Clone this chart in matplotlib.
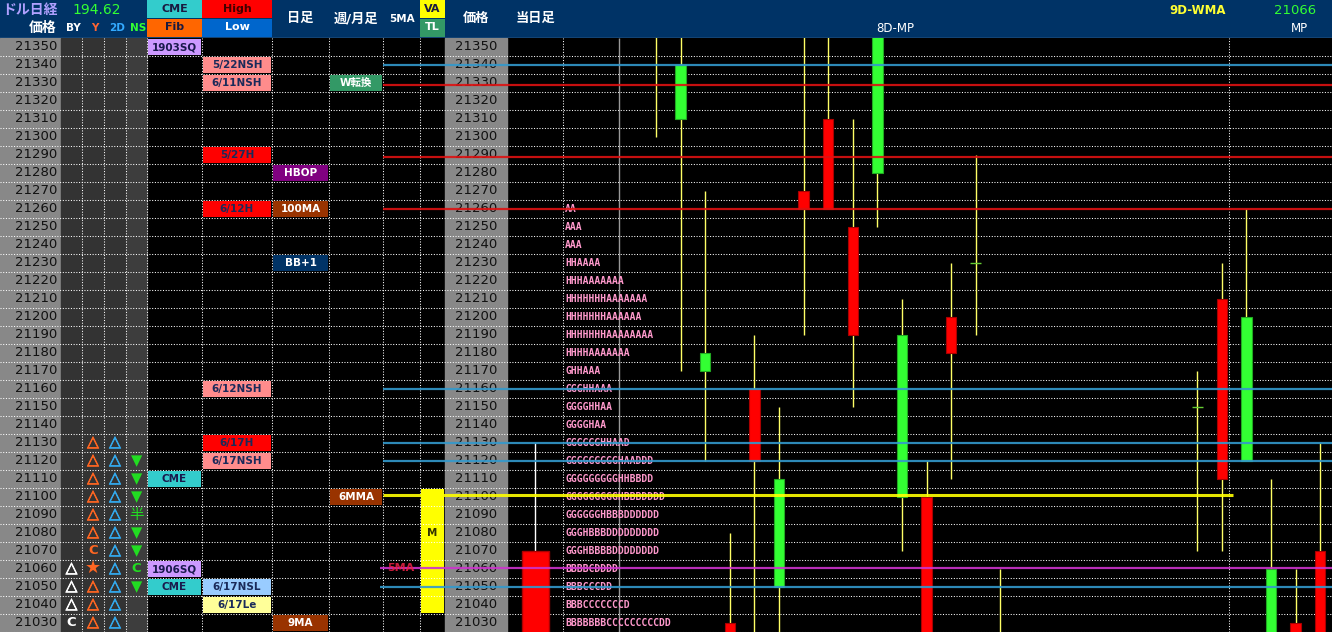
import matplotlib
matplotlib.use("Agg")
import matplotlib.pyplot as plt
import matplotlib.patheffects as pe
from matplotlib.patches import Rectangle

plt.rcParams['font.family'] = ['DejaVu Sans', 'Noto Sans CJK JP']

# ---- data ----
row_prices = list(range(21350, 21020, -10))

cme_rows = [21350, 21110, 21060, 21050]
cme_text = ['1903SQ', 'CME', '1906SQ', 'CME']
cme_fill = ['#cc99ff', '#33cccc', '#cc99ff', '#33cccc']

hl_rows = [21340, 21330, 21290, 21260, 21160, 21130, 21120, 21050, 21040]
hl_text = ['5/22NSH', '6/11NSH', '5/27H', '6/12H', '6/12NSH', '6/17H', '6/17NSH', '6/17NSL', '6/17Le']
hl_fill = ['#ff8c8c', '#ff8c8c', '#ff0000', '#ff0000', '#ff8c8c', '#ff0000', '#ff8c8c', '#99ccff', '#ffff99']

day_rows = [21280, 21260, 21230, 21030]
day_text = ['HBOP', '100MA', 'BB+1', '9MA']
day_fill = ['#800080', '#993300', '#003366', '#993300']

wk_rows = [21330, 21100]
wk_text = ['W転換', '6MMA']
wk_fill = ['#339966', '#993300']

va_top, va_bottom = 21100, 21040
va_mark_row, va_mark = 21080, 'M'

by_sym = {21060: '△', 21050: '△', 21040: '△', 21030: 'C'}
y_sym = {21130: '△', 21120: '△', 21110: '△', 21100: '△', 21090: '△', 21080: '△',
         21070: 'C', 21060: '★', 21050: '△', 21040: '△', 21030: '△'}
d2_sym = {p: '△' for p in range(21130, 21020, -10)}
ns_sym = {21120: '▼', 21110: '▼', 21100: '▼', 21090: '半', 21080: '▼', 21070: '▼',
          21060: 'C', 21050: '▼'}

mp_rows = list(range(21260, 21020, -10))
mp_text = ['AA', 'AAA', 'AAA', 'HHAAAA', 'HHHAAAAAAA', 'HHHHHHHAAAAAAA', 'HHHHHHHAAAAAA',
           'HHHHHHHAAAAAAAA', 'HHHHAAAAAAA', 'GHHAAA', 'GGGHHAAA', 'GGGGHHAA', 'GGGGHAA',
           'GGGGGGHHAAD', 'GGGGGGGGGHAADDD', 'GGGGGGGGGHHBBDD', 'GGGGGGGGGHBBBDDDD',
           'GGGGGGHBBBDDDDDD', 'GGGHBBBDDDDDDDDD', 'GGGHBBBBDDDDDDDD', 'BBBBCDDDD',
           'BBBCCCDD', 'BBBCCCCCCCD', 'BBBBBBBCCCCCCCCCDD']

# daily candles (index, open, high, low, close)
c_idx = [0, 1, 2, 3, 4, 5, 6, 7, 8, 9, 10, 11, 12, 13, 14, 22, 23, 24, 25, 26, 27]
c_open = [21370, 21310, 21170, 21030, 21160, 21050, 21270, 21310, 21250, 21280, 21100,
          21100, 21200, 21230, 21010, 21150, 21210, 21120, 20990, 21030, 21070]
c_high = [21400, 21380, 21270, 21080, 21190, 21150, 21380, 21380, 21310, 21420, 21210,
          21120, 21230, 21290, 21060, 21170, 21230, 21260, 21110, 21060, 21130]
c_low = [21300, 21170, 21120, 20970, 21000, 21000, 21190, 21260, 21150, 21250, 21070,
         20960, 21110, 21190, 20960, 21070, 21070, 21120, 20980, 20990, 20990]
c_close = [21390, 21340, 21180, 20990, 21120, 21110, 21260, 21260, 21190, 21400, 21190,
           20980, 21180, 21230, 20980, 21150, 21110, 21200, 21060, 21000, 21000]

# today's candle
t_open, t_high, t_low, t_close = 21070, 21130, 20980, 21000

levels = [21340, 21329, 21289, 21260, 21160, 21130, 21120, 21101, 21060.5, 21050]
level_col = ['#3399cc', '#dd1111', '#dd1111', '#dd1111', '#3399cc', '#3399cc', '#3399cc',
             '#ffff00', '#cc33cc', '#3399cc']

# ---- layout (pixels) ----
W, H, HEAD = 1332, 632, 38
PLO, PHI = 21025, 21355
COL = {'price': (0, 61), 'by': (61, 82), 'y': (82, 104), 'd2': (104, 126), 'ns': (126, 147),
       'cme': (147, 202), 'hl': (202, 272), 'day': (272, 329), 'wk': (329, 383),
       'ma5': (383, 420), 'va': (420, 445), 'pr2': (445, 507), 'today': (507, 563)}

fig = plt.figure(figsize=(W / 100, H / 100), dpi=100, facecolor='black')

# header
axh = fig.add_axes([0, (H - HEAD) / H, 1, HEAD / H])
axh.set_xlim(0, W)
axh.set_ylim(HEAD, 0)
axh.set_facecolor('#003366')
axh.set_xticks([])
axh.set_yticks([])
for s in axh.spines.values():
    s.set_visible(False)


def hcell(c, top, fc, txt, tc):
    x0, x1 = COL[c]
    y0 = 0 if top else 18.5
    axh.add_patch(Rectangle((x0, y0), x1 - x0, 18, fc=fc, ec='none'))
    axh.text((x0 + x1) / 2, y0 + 9, txt, color=tc, fontsize=8, fontweight='bold',
             ha='center', va='center')


hcell('cme', True, '#33cccc', 'CME', '#1a1a40')
hcell('cme', False, '#ff6600', 'Fib', '#1a1a40')
hcell('hl', True, '#ff0000', 'High', '#440000')
hcell('hl', False, '#0066cc', 'Low', 'white')
hcell('va', True, '#ffff00', 'VA', '#1a1a40')
hcell('va', False, '#339966', 'TL', 'white')
axh.axhline(37.5, color='#6688aa', lw=1)

axh.text(30, 10, 'ドル日経', color='#b0a0ff', fontsize=10, fontweight='bold', ha='center', va='center')
axh.text(57, 28, '価格', color='white', fontsize=10, fontweight='bold', ha='right', va='center')
axh.text(97, 10, '194.62', color='#33ff33', fontsize=10, ha='center', va='center')
for c, t, tc in [('by', 'BY', 'white'), ('y', 'Y', '#ff6633'), ('d2', '2D', '#33aaff'), ('ns', 'NS', '#33ff33')]:
    axh.text(sum(COL[c]) / 2 + 2, 28, t, color=tc, fontsize=7.5, fontweight='bold', ha='center', va='center')
for c, t in [('day', '日足'), ('wk', '週/月足'), ('pr2', '価格'), ('today', '当日足')]:
    axh.text(sum(COL[c]) / 2, 18.5, t, color='white', fontsize=9.5, fontweight='bold', ha='center', va='center')
axh.text(sum(COL['ma5']) / 2, 18.5, '5MA', color='white', fontsize=7.5, fontweight='bold', ha='center', va='center')
axh.text(1198, 11, '9D-WMA', color='#ffff33', fontsize=8.5, fontweight='bold', ha='center', va='center')
axh.text(1295, 11, '21066', color='#33ff33', fontsize=9.5, ha='center', va='center')
axh.text(895, 28, '8D-MP', color='white', fontsize=8.5, ha='center', va='center')
axh.text(1299, 28, 'MP', color='white', fontsize=8.5, ha='center', va='center')

# body
ax = fig.add_axes([0, 0, 1, (H - HEAD) / H])
ax.set_xlim(0, W)
ax.set_ylim(PLO, PHI)
ax.set_facecolor('black')
ax.set_xticks([])
ax.set_yticks([])
for s in ax.spines.values():
    s.set_visible(False)

ax.axvspan(*COL['price'], color='#888888', zorder=0)
ax.axvspan(61, 126, color='#333333', zorder=0)
ax.axvspan(*COL['ns'], color='#3d3d3d', zorder=0)
ax.axvspan(*COL['pr2'], color='#888888', zorder=0)

# VA block
x0, x1 = COL['va']
ax.add_patch(Rectangle((x0 + 1, va_bottom - 4.6), x1 - x0 - 2, va_top - va_bottom + 9.3,
                       fc='#ffff00', ec='none', zorder=0.5))
ax.text((x0 + x1) / 2, va_mark_row, va_mark, color='#333300', fontsize=7.5, fontweight='bold',
        ha='center', va='center', zorder=4)

dot = (0, (1, 1.6))
ax.hlines([p - 5 for p in row_prices], 0, W, colors='white', linestyles=dot, lw=0.75, zorder=1)
ax.vlines([82, 104, 126, 147, 202, 272, 329, 383, 420, 563, 1229], PLO, PHI,
          colors='white', linestyles=dot, lw=0.75, zorder=1)
ax.vlines(618.5, PLO, PHI, colors='#999999', lw=1, zorder=1)

for p in row_prices:
    ax.text(57, p, str(p), color='#111111', fontsize=9.5, ha='right', va='center', zorder=2)
    ax.text(476, p, str(p), color='#111111', fontsize=9.5, ha='center', va='center', zorder=2)


def cell(c, p, fc, txt, tc):
    x0, x1 = COL[c]
    ax.add_patch(Rectangle((x0 + 1, p - 4.6), x1 - x0 - 2, 9.1, fc=fc, ec='none', zorder=3))
    ax.text((x0 + x1) / 2, p, txt, color=tc, fontsize=7.5, fontweight='bold',
            ha='center', va='center', zorder=4)


for p, t, f in zip(cme_rows, cme_text, cme_fill):
    cell('cme', p, f, t, '#1a1a4d')
for p, t, f in zip(hl_rows, hl_text, hl_fill):
    cell('hl', p, f, t, '#1a2a5a')
for p, t, f in zip(day_rows, day_text, day_fill):
    cell('day', p, f, t, 'white')
for p, t, f in zip(wk_rows, wk_text, wk_fill):
    cell('wk', p, f, t, 'white')

for c, syms, tc in [('by', by_sym, 'white'), ('y', y_sym, '#ff6622'),
                    ('d2', d2_sym, '#33aaee'), ('ns', ns_sym, '#22dd22')]:
    for p, s in syms.items():
        if s == '△':
            ax.text(sum(COL[c]) / 2, p + 0.6, s, color=tc, fontsize=11, fontweight='bold',
                    ha='center', va='center', zorder=4,
                    path_effects=[pe.withStroke(linewidth=0.5, foreground=tc)])
        elif s == 'C':
            ax.text(sum(COL[c]) / 2, p, s, color=tc, fontsize=9.5, fontweight='bold',
                    ha='center', va='center', zorder=4)
        elif s == '★':
            ax.text(sum(COL[c]) / 2, p + 0.5, s, color=tc, fontsize=13,
                    ha='center', va='center', zorder=4)
        else:
            ax.text(sum(COL[c]) / 2, p, s, color=tc, fontsize=10.5,
                    ha='center', va='center', zorder=4)

for p, t in zip(mp_rows, mp_text):
    ax.text(565, p, t, color='#ff99cc', fontsize=7, fontweight='bold', family='DejaVu Sans Mono',
            ha='left', va='center', zorder=4)

# today's candle
tx = sum(COL['today']) / 2
ax.vlines(tx, t_open, t_high, colors='white', lw=1, zorder=4)
ax.bar(tx, t_close - t_open, bottom=t_open, width=27, color='#ff0000', edgecolor='#aa0000', lw=1, zorder=5)

# daily candles
axc = fig.add_axes([563 / W, 0, (W - 563) / W, (H - HEAD) / H])
axc.set_xlim((563 - 656) / 24.6, (W - 656) / 24.6)
axc.set_ylim(PLO, PHI)
axc.patch.set_alpha(0)
axc.axis('off')
axc.vlines(c_idx, c_low, c_high, colors='#ffff66', lw=1, zorder=2)
for i, o, c in zip(c_idx, c_open, c_close):
    if o == c:
        axc.hlines(o, i - 0.22, i + 0.22, colors='#66cc33', lw=1, zorder=3)
    else:
        up = c > o
        axc.bar(i, c - o, bottom=o, width=0.42, color='#33ff33' if up else '#ff0000',
                edgecolor='#22aa22' if up else '#aa0000', lw=0.8, zorder=3)

# level lines on top
axl = fig.add_axes([0, 0, 1, (H - HEAD) / H])
axl.set_xlim(0, W)
axl.set_ylim(PLO, PHI)
axl.patch.set_alpha(0)
axl.axis('off')
for lv, lc in zip(levels, level_col):
    x0 = 380 if lv in (21060.5, 21050) else 383
    x1 = 1233 if lc == '#ffff00' else W
    axl.hlines(lv, x0, x1, colors=lc, lw=2.2 if lc == '#ffff00' else 1.6, alpha=0.9)
axl.text(401, 21060.5, '5MA', color='#ee2244', fontsize=8, fontweight='bold',
         ha='center', va='center', alpha=0.85)

fig.savefig('out.png', dpi=100, facecolor='black')
